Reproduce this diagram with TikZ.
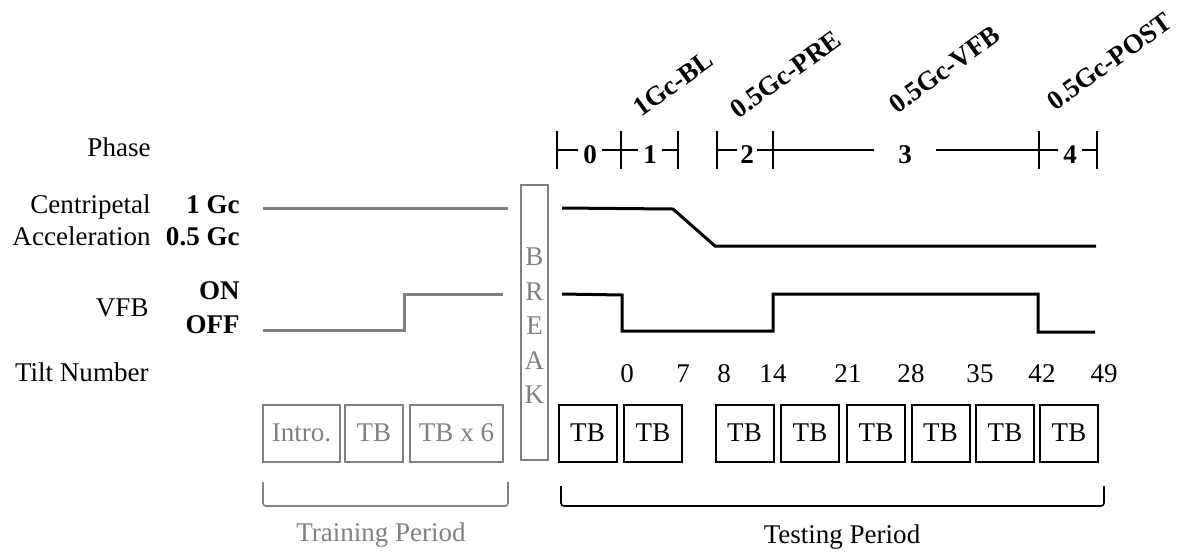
\documentclass[tikz,border=0pt,12pt]{standalone}
\usepackage{fontspec}
\setmainfont{Liberation Serif}
\usetikzlibrary{positioning}
\newcommand{\pxu}{0.444pt}
\tikzset{
    rowlabel/.style = {anchor=base east, inner sep=0pt},
    levlabel/.style = {anchor=base east, inner sep=0pt, font=\fontsize{12}{14}\selectfont\bfseries},
    phnum/.style = {anchor=base, fill=white, inner ysep=1pt, inner xsep=5*\pxu, font=\fontsize{12}{14}\selectfont\bfseries},
    phname/.style = {anchor=base west, rotate=36, inner sep=0pt, font=\fontsize{12}{14}\selectfont\bfseries},
    tiltnum/.style = {anchor=base, inner sep=0pt},
    tbbox/.style = {draw=black, line width=2*\pxu, minimum width=58*\pxu, minimum height=57*\pxu, inner sep=0pt},
    tbboxg/.style = {tbbox, draw=gray, text=gray},
    sigline/.style = {line width=3*\pxu, black, line join=miter},
    siglineg/.style = {sigline, gray},
    phtick/.style = {line width=1.2*\pxu, black},
    period/.style = {line width=1.6*\pxu, rounded corners=3*\pxu},
}

\begin{document}
\begin{tikzpicture}[x=\pxu, y=-\pxu, font=\fontsize{12}{14}\selectfont]
%
\path[use as bounding box] (0,0) rectangle (1183,554);
%
% row labels
\node[rowlabel] (phase) at (151,156) {Phase};
\node[rowlabel] (cent) at (151,213) {Centripetal};
\node[rowlabel] (accel) at (151,245) {Acceleration};
\node[rowlabel] (vfb) at (149,316) {VFB};
\node[rowlabel] (tilt) at (149,381) {Tilt Number};
%
\node[levlabel] (g1) at (240,213) {1 Gc};
\node[levlabel] (g05) at (240,245) {0.5 Gc};
\node[levlabel] (on) at (240,299) {ON};
\node[levlabel] (off) at (240,333) {OFF};
%
% phase bar
\foreach \x [count=\i from 0] in {557,621,678,717,773,1039,1097}
    \coordinate (p\i) at (\x,150);
\draw[phtick] (p0) -- (p2) (p3) -- (p6);
\foreach \i in {0,...,6}
    \draw[phtick] ([yshift=19*\pxu]p\i) -- ([yshift=-19*\pxu]p\i);
\node[phnum] (ph0) at (590,163) {0};
\node[phnum] (ph1) at (650,163) {1};
\node[phnum, inner xsep=3*\pxu] (ph2) at (747,163) {2};
\node[phnum, inner xsep=24*\pxu] (ph3) at (905,163) {3};
\node[phnum] (ph4) at (1070,163) {4};
%
\node[phname] (nbl) at (641,118) {1Gc-BL};
\node[phname] (npre) at (738,120) {0.5Gc-PRE};
\node[phname] (nvfb) at (897,115) {0.5Gc-VFB};
\node[phname] (npost) at (1055,112) {0.5Gc-POST};
%
% training signals
\draw[siglineg] (263,208) -- (508,208);
\draw[siglineg] (263,330) -- (404,330) -- (404,294) -- (503,294);
% testing signals
\draw[sigline] (562,208) -- (673,209) -- (715,246) -- (1096,246);
\draw[sigline] (562,294) -- (622,295) -- (622,331) -- (773,331) -- (773,294)
    -- (1038,294) -- (1038,332) -- (1095,332);
%
\foreach \n/\x in {0/627,7/683,8/724,14/773,21/848,28/911,35/980,42/1042,49/1104}
    \node[tiltnum] (t\n) at (\x,382) {\n};
%
% break
\node[tbboxg, minimum width=27*\pxu, minimum height=275*\pxu] (brk) at (534.5,322.5) {};
\node[align=center, text=gray, inner sep=0pt, font=\fontsize{12}{15.3}\selectfont] (brktxt) at (534.5,326) {B\\R\\E\\A\\K};
%
% blocks
\node[tbboxg, minimum width=77*\pxu] (intro) at (301.5,433) {Intro.};
\node[tbboxg] (tbg) at (374,433) {TB};
\node[tbboxg, minimum width=93*\pxu] (tbsix) at (456.5,433) {TB x 6};
\foreach \x [count=\i] in {587.5,653,744.5,810,876,940.5,1005,1069}
    \node[tbbox] (tb\i) at (\x,433) {TB};
%
% periods
\draw[period, gray] (263,482) -- (263,506) -- (508,506) -- (508,482);
\draw[period] (561,486) -- (561,506) -- (1104,506) -- (1104,486);
\node[text=gray] (train) at (381,535) {Training Period};
\node (test) at (842,537) {Testing Period};

\end{tikzpicture}
\end{document}
